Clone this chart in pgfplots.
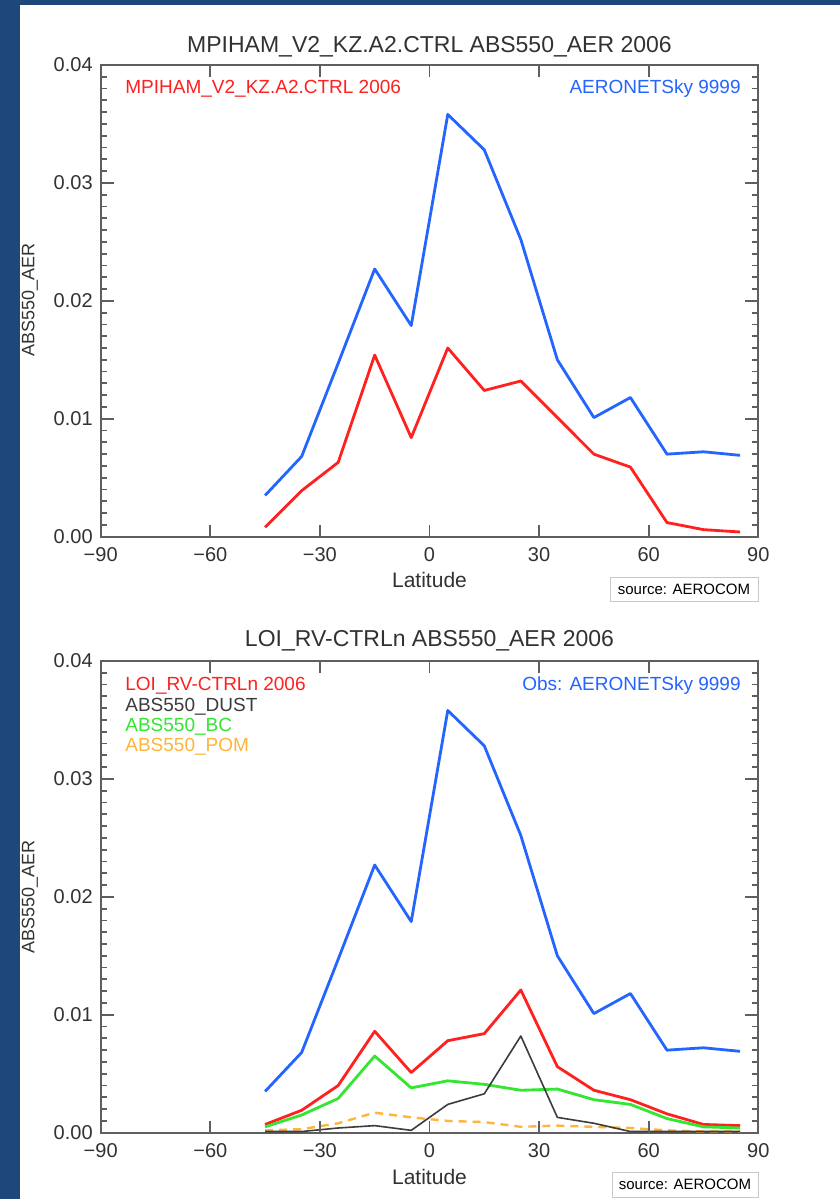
\documentclass[border=0pt]{standalone}
\usepackage{fontspec}
\setmainfont{Liberation Sans}
\usepackage{pgfplots}
\pgfplotsset{compat=1.18}
\usepackage{pgfplotstable}

\definecolor{bgblue}{RGB}{31,72,122}
\definecolor{obsblue}{RGB}{36,100,255}
\definecolor{modred}{RGB}{255,32,32}
\definecolor{bcgreen}{RGB}{50,230,50}
\definecolor{pomorange}{RGB}{255,180,60}
\definecolor{dustgray}{RGB}{60,60,60}
\definecolor{axgray}{RGB}{95,95,95}
\definecolor{txtgray}{RGB}{50,50,50}
\definecolor{boxgray}{RGB}{200,200,200}

% AERONET sky observations (same in both panels)
\pgfplotstableread{
lat val
-45 0.0035
-35 0.0068
-25 0.0147
-15 0.0227
-5  0.0179
5   0.0358
15  0.0328
25  0.0252
35  0.0150
45  0.0101
55  0.0118
65  0.0070
75  0.0072
85  0.0069
}\obs

% MPIHAM_V2_KZ.A2.CTRL
\pgfplotstableread{
lat val
-45 0.0008
-35 0.0039
-25 0.0063
-15 0.0154
-5  0.0084
5   0.0160
15  0.0124
25  0.0132
35  0.0101
45  0.0070
55  0.0059
65  0.0012
75  0.0006
85  0.0004
}\mpiham

% LOI_RV-CTRLn total
\pgfplotstableread{
lat val
-45 0.0007
-35 0.0019
-25 0.0040
-15 0.0086
-5  0.0051
5   0.0078
15  0.0084
25  0.0121
35  0.0056
45  0.0036
55  0.0028
65  0.0016
75  0.0007
85  0.0006
}\loitot

\pgfplotstableread{
lat val
-45 0.0001
-35 0.0001
-25 0.0004
-15 0.0006
-5  0.0002
5   0.0024
15  0.0033
25  0.0082
35  0.0013
45  0.0008
55  0.0001
65  0.0001
75  0.0001
85  0.0001
}\dust

\pgfplotstableread{
lat val
-45 0.0005
-35 0.0015
-25 0.0029
-15 0.0065
-5  0.0038
5   0.0044
15  0.0041
25  0.0036
35  0.0037
45  0.0028
55  0.0024
65  0.0012
75  0.0005
85  0.0004
}\bc

\pgfplotstableread{
lat val
-45 0.0002
-35 0.0003
-25 0.0008
-15 0.0017
-5  0.0013
5   0.0010
15  0.0009
25  0.0005
35  0.0006
45  0.0005
55  0.0004
65  0.0002
75  0.0001
85  0.0001
}\pom

\pgfplotsset{
  abspanel/.style={
    anchor=south west,
    scale only axis,
    width=328.8pt, height=235.9pt,
    xmin=-90, xmax=90, ymin=0, ymax=0.04,
    xtick={-90,-60,-30,0,30,60,90},
    xticklabels={−90,−60,−30,0,30,60,90},
    ytick={0,0.01,0.02,0.03,0.04},
    yticklabels={0.00,0.01,0.02,0.03,0.04},
    scaled y ticks=false,
    minor y tick num=9,
    tick pos=both,
    tick align=inside,
    major tick length=6pt, minor tick length=3pt,
    axis line style={axgray, line width=1pt},
    every tick/.style={draw=axgray, line width=0.9pt},
    ticklabel style={font=\fontsize{10}{12}\selectfont, text=txtgray},
    xticklabel style={yshift=-2pt},
    yticklabel style={xshift=-0.5pt},
    every axis plot/.append style={line join=round},
  },
}

% tick marks drawn on the frame (inside), in case the axis ticks are too faint
\newcommand\frameticks{%
  \pgfplotsinvokeforeach{1,2,3,4,5,6,7,8,9,11,12,13,14,15,16,17,18,19,21,22,23,24,25,26,27,28,29,31,32,33,34,35,36,37,38,39}{%
    \draw[axgray, line width=0.9pt] (rel axis cs:0,##1/40) -- ++(3pt,0pt);
    \draw[axgray, line width=0.9pt] (rel axis cs:1,##1/40) -- ++(-3pt,0pt);
  }%
  \pgfplotsinvokeforeach{10,20,30}{%
    \draw[axgray, line width=0.9pt] (rel axis cs:0,##1/40) -- ++(6.5pt,0pt);
    \draw[axgray, line width=0.9pt] (rel axis cs:1,##1/40) -- ++(-6.5pt,0pt);
  }%
  \pgfplotsinvokeforeach{1,2,3,4,5}{%
    \draw[axgray, line width=0.9pt] (rel axis cs:##1/6,0) -- ++(0pt,5pt);
    \draw[axgray, line width=0.9pt] (rel axis cs:##1/6,1) -- ++(0pt,-5pt);
  }%
}

\begin{document}
\begin{tikzpicture}
\begin{scope}[x=0.5pt,y=-0.5pt]
\fill[bgblue] (0,0) rectangle (840,1199);
\fill[white] (20,5) rectangle (840,1199);
\end{scope}

% ---- top panel ----
\begin{axis}[abspanel, at={(50.35pt,-268.35pt)}]
\addplot[obsblue, line width=1.4pt, mark=none] table {\obs};
\addplot[modred, line width=1.4pt, mark=none] table {\mpiham};
\frameticks
\end{axis}

% ---- bottom panel ----
\begin{axis}[abspanel, at={(50.35pt,-566.35pt)}]
\addplot[obsblue, line width=1.4pt, mark=none] table {\obs};
\addplot[modred, line width=1.4pt, mark=none] table {\loitot};
\addplot[bcgreen, line width=1.4pt, mark=none] table {\bc};
\addplot[pomorange, line width=1.2pt, dash pattern=on 4pt off 3pt, mark=none] table {\pom};
\addplot[dustgray, line width=0.8pt, mark=none] table {\dust};
\frameticks
\end{axis}

\begin{scope}[x=0.5pt,y=-0.5pt]
\node[font=\fontsize{11.5}{13}\selectfont, text=txtgray] at (429.5,47) {MPIHAM\_V2\_KZ.A2.CTRL ABS550\_AER 2006};
\node[font=\fontsize{9.5}{11}\selectfont, text=modred, anchor=west, inner sep=0] at (125,89) {MPIHAM\_V2\_KZ.A2.CTRL 2006};
\node[font=\fontsize{9.5}{11}\selectfont, text=obsblue, anchor=east, inner sep=0] at (741,89) {AERONETSky 9999};
\node[font=\fontsize{10.5}{12}\selectfont, text=txtgray] at (429.5,580) {Latitude};
\node[font=\fontsize{9}{11}\selectfont, text=txtgray, rotate=90] at (30,300) {ABS550\_AER};
\draw[boxgray, line width=0.5pt] (610,577) rectangle (758,601);
\node[font=\fontsize{7.5}{9}\selectfont] at (684,589.5) {source: AEROCOM};

\node[font=\fontsize{11.5}{13}\selectfont, text=txtgray] at (429.5,641) {LOI\_RV-CTRLn ABS550\_AER 2006};
\node[font=\fontsize{9.5}{11}\selectfont, text=modred, anchor=west, inner sep=0] at (125,686) {LOI\_RV-CTRLn 2006};
\node[font=\fontsize{9.5}{11}\selectfont, text=obsblue, anchor=east, inner sep=0] at (741,686) {Obs: AERONETSky 9999};
\node[font=\fontsize{9.5}{11}\selectfont, text=dustgray, anchor=west, inner sep=0] at (125,707) {ABS550\_DUST};
\node[font=\fontsize{9.5}{11}\selectfont, text=bcgreen, anchor=west, inner sep=0] at (125,727) {ABS550\_BC};
\node[font=\fontsize{9.5}{11}\selectfont, text=pomorange, anchor=west, inner sep=0] at (125,747) {ABS550\_POM};
\node[font=\fontsize{10.5}{12}\selectfont, text=txtgray] at (429.5,1177) {Latitude};
\node[font=\fontsize{9}{11}\selectfont, text=txtgray, rotate=90] at (30,897) {ABS550\_AER};
\draw[boxgray, line width=0.5pt] (612,1172) rectangle (758,1197);
\node[font=\fontsize{7.5}{9}\selectfont] at (685,1184.5) {source: AEROCOM};
\end{scope}
\end{tikzpicture}
\end{document}
